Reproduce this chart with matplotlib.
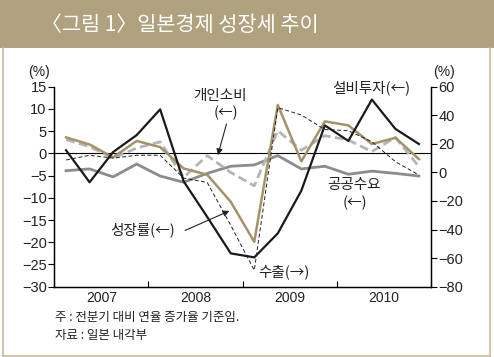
# -*- coding: utf-8 -*-
# Japan economy growth trend chart (quarterly, annualized qoq)
import matplotlib
matplotlib.use("Agg")
import matplotlib.pyplot as plt
from matplotlib.patches import Rectangle
from matplotlib.lines import Line2D
import numpy as np

quarters = np.arange(16)   # 2007Q1 .. 2010Q4
years = ["2007", "2008", "2009", "2010"]

gdp = [3.6, 2.0, -0.9, 2.8, 1.4, -3.4, -4.8, -10.9, -19.9, 10.9, -1.8, 7.2, 6.3, 2.1, 3.5, -1.3]
consumption = [3.1, 1.5, -1.1, 1.2, 2.6, -5.4, -0.5, -4.3, -7.3, 5.1, 0.7, 4.0, 3.0, 0.4, 3.6, -3.0]
equipment = [0.7, -6.5, 0.3, 4.1, 9.9, -6.3, -14.3, -22.5, -23.4, -18.0, -8.4, 6.3, 2.8, 12.1, 5.5, 2.1]
public = [-3.9, -3.5, -5.3, -2.4, -5.1, -6.5, -4.5, -2.9, -2.6, -0.5, -3.5, -2.9, -4.7, -4.0, -4.5, -5.1]
exports = [8.7, 12.0, 10.0, 12.0, 12.0, -4.0, -7.0, -37.0, -68.5, 45.3, 40.2, 30.0, 29.2, 21.5, 7.5, -1.8]

kr = ["Noto Sans CJK KR", "DejaVu Sans"]
num = ["Liberation Sans", "DejaVu Sans"]

fig = plt.figure(figsize=(4.94, 3.57), dpi=100)

# title band and frame
fig.patches.append(Rectangle((0, 1 - 48 / 357), 1, 48 / 357, transform=fig.transFigure,
                             facecolor="#b0a17f", edgecolor="none", zorder=0))
frame_c = "#c9bb9d"
fig.lines.append(Line2D([3 / 494, 3 / 494], [1 / 357, 1 - 48 / 357], transform=fig.transFigure, color=frame_c, lw=1.2))
fig.lines.append(Line2D([490 / 494, 490 / 494], [1 / 357, 1 - 48 / 357], transform=fig.transFigure, color=frame_c, lw=1.2))
fig.lines.append(Line2D([3 / 494, 490 / 494], [1.5 / 357, 1.5 / 357], transform=fig.transFigure, color=frame_c, lw=1.2))
fig.text(41 / 494, 1 - 25 / 357, "〈그림 1〉일본경제 성장세 추이", family=kr, fontsize=15,
         color="white", va="center", ha="left", weight="medium")

ax = fig.add_axes([54.3 / 494, 1 - 286.7 / 357, (430.7 - 54.3) / 494, 200 / 357])
ax2 = ax.twinx()

ax.plot(quarters, public, color="#8c8c8c", lw=2.0, zorder=3)
ax.plot(quarters, consumption, color="#b5b5b5", lw=2.0, ls=(0, (3.2, 1.6)), zorder=3)
ax.plot(quarters, gdp, color="#a3936a", lw=1.8, zorder=4)
ax.plot(quarters, equipment, color="#1a1a1a", lw=1.6, zorder=5)
ax2.plot(quarters, exports, color="#222222", lw=0.7, ls=(0, (4, 2.5)))
ax.axhline(0, color="black", lw=0.8, zorder=2)

ax.set_xlim(-0.5, 15.5)
ax.set_ylim(-30, 15)
ax2.set_ylim(-80, 60)
ax.set_yticks(np.arange(-30, 16, 5))
ax2.set_yticks(np.arange(-80, 61, 20))

ax.set_xticks([-0.5, 3.5, 7.5, 11.5, 15.5])
ax.set_xticklabels([])
ax.set_xticks([1.5, 5.5, 9.5, 13.5], minor=True)
ax.set_xticklabels(years, minor=True, family=num, fontsize=10, color="#222222")
ax.tick_params(axis="x", which="major", direction="in", length=4, width=0.8)
ax.tick_params(axis="x", which="minor", length=0, pad=3)
ax.tick_params(axis="y", direction="out", length=4, width=0.8, pad=1.5)
ax2.tick_params(axis="y", direction="out", length=4, width=0.8, pad=1.5)
for lab in ax.get_yticklabels() + ax2.get_yticklabels():
    lab.set_family(num)
    lab.set_fontsize(10.5)
    lab.set_color("#222222")

for a in (ax, ax2):
    a.spines["top"].set_visible(False)
    for s in ("left", "right", "bottom"):
        a.spines[s].set_linewidth(0.9)

# units
fig.text(39 / 494, 1 - 72 / 357, "(%)", family=num, fontsize=10, ha="center", va="center", color="#222222")
fig.text(444 / 494, 1 - 72 / 357, "(%)", family=num, fontsize=10, ha="center", va="center", color="#222222")

# series labels
tc = "#222222"
fs = 10.5
ax.text(6.55, 12.9, "개인소비", family=kr, fontsize=fs, ha="center", va="center", color=tc)
ax.text(6.8, 9.1, "(←)", family=kr, fontsize=fs, ha="center", va="center", color=tc)
ax.annotate("", xy=(6.42, -1.0), xytext=(6.85, 7.2),
            arrowprops=dict(arrowstyle="-|>", color="#222222", lw=0.8, mutation_scale=9))
ax.text(3.27, -17.3, "성장률(←)", family=kr, fontsize=fs, ha="center", va="center", color=tc)
ax.annotate("", xy=(7.05, -12.7), xytext=(4.95, -17.6),
            arrowprops=dict(arrowstyle="-|>", color="#222222", lw=0.8, mutation_scale=9))
ax.text(12.98, 14.7, "설비투자(←)", family=kr, fontsize=fs, ha="center", va="center", color=tc)
ax.text(12.25, -7.1, "공공수요", family=kr, fontsize=fs, ha="center", va="center", color=tc)
ax.text(12.3, -11.2, "(←)", family=kr, fontsize=fs, ha="center", va="center", color=tc)
ax.text(9.27, -26.7, "수출(→)", family=kr, fontsize=fs, ha="center", va="center", color=tc)

# notes
fig.text(55 / 494, 1 - 318 / 357, "주 : 전분기 대비 연율 증가율 기준임.", family=kr, fontsize=9,
         ha="left", va="center", color=tc)
fig.text(55 / 494, 1 - 335 / 357, "자료 : 일본 내각부", family=kr, fontsize=9,
         ha="left", va="center", color=tc)

fig.savefig("out.png", dpi=100)
